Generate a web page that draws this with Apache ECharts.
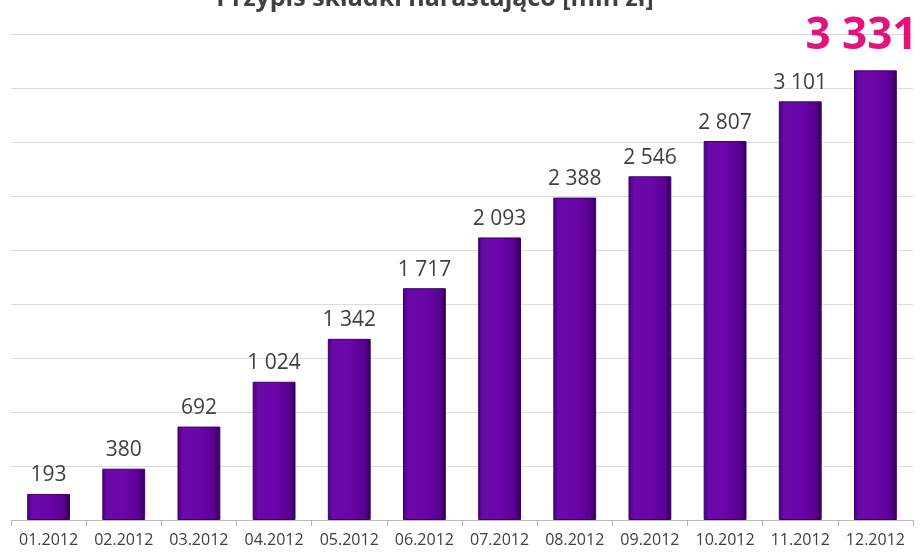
<!doctype html>
<html lang="pl">
<head>
    <meta charset="UTF-8">
    <title>Przypis składki narastająco</title>
    <style>
        body { margin: 0; padding: 0; background: #fff; }
        #main { width: 920px; height: 552px; }
    </style>
</head>
<body>
    <div id="main"></div>
    <script src="https://cdn.jsdelivr.net/npm/echarts@6/dist/echarts.min.js"></script>
    <script>
        var months = ['01.2012', '02.2012', '03.2012', '04.2012', '05.2012', '06.2012',
                      '07.2012', '08.2012', '09.2012', '10.2012', '11.2012', '12.2012'];
        var przypis = [193, 380, 692, 1024, 1342, 1717, 2093, 2388, 2546, 2807, 3101, 3331];
        var chartTitle = 'Przypis składki narastająco [mln zł]';

        function fmt(v) {
            return String(v).replace(/\B(?=(\d{3})+(?!\d))/g, ' ');
        }

        var barColor = new echarts.graphic.LinearGradient(0, 0, 1, 0, [
            { offset: 0, color: '#4a0080' },
            { offset: 0.12, color: '#6a0aa8' },
            { offset: 0.5, color: '#6c06ab' },
            { offset: 0.85, color: '#5a0092' },
            { offset: 1, color: '#2e0050' }
        ]);

        var data = przypis.map(function (v, i) {
            var item = { value: v };
            if (i === przypis.length - 1) {
                // ostatni miesiac wyrozniony
                item.label = {
                    fontSize: 44,
                    fontWeight: 'bold',
                    color: '#e0137f',
                    distance: 12,
                    offset: [-14, 0]
                };
            }
            return item;
        });

        var myChart = echarts.init(document.getElementById('main'));
        myChart.setOption({
            animation: false,
            title: {
                text: chartTitle,
                left: 430,
                top: -19,
                textAlign: 'center',
                textStyle: { fontFamily: 'Open Sans', fontSize: 25, fontWeight: 'bold', color: '#404040' }
            },
            grid: { left: 11, right: 7, top: 34, bottom: 32 },
            xAxis: {
                type: 'category',
                data: months,
                axisLine: { lineStyle: { color: '#b8b8b8' } },
                axisTick: { show: true, length: 6, interval: 0, lineStyle: { color: '#b8b8b8' } },
                axisLabel: { interval: 0, fontFamily: 'Open Sans', fontSize: 16, color: '#404040', margin: 12 }
            },
            yAxis: {
                type: 'value',
                min: 0,
                max: 3600,
                interval: 400,
                axisLabel: { show: false },
                axisLine: { show: false },
                axisTick: { show: false },
                splitLine: { lineStyle: { color: '#dcdcdc', width: 1 } }
            },
            series: [{
                type: 'bar',
                data: data,
                barWidth: '57%',
                itemStyle: { color: barColor, borderColor: '#3c0068', borderWidth: 1 },
                label: {
                    show: true,
                    position: 'top',
                    distance: 8,
                    fontFamily: 'Open Sans',
                    fontSize: 21,
                    color: '#404040',
                    formatter: function (p) { return fmt(p.value); }
                }
            }]
        });
    </script>
</body>
</html>
